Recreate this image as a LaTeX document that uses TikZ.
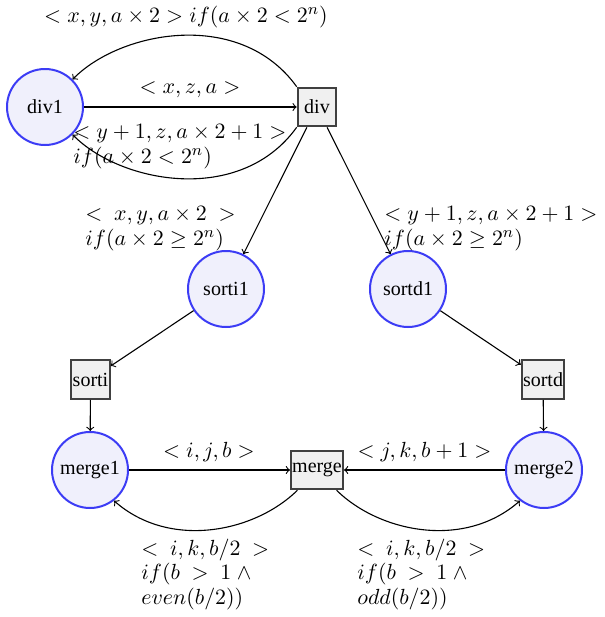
\documentclass[tikz,border=0pt]{standalone}
\usepackage[no-math]{fontspec}
\setmainfont{Liberation Serif}
\definecolor{placeblue}{RGB}{60,60,245}
\definecolor{placefill}{RGB}{240,240,252}
\begin{document}
\begin{tikzpicture}[x=0.5pt,y=-0.5pt,
  place/.style={circle,draw=placeblue,fill=placefill,line width=1pt,minimum size=38pt,inner sep=0pt},
  trans/.style={rectangle,draw=black!75,fill=black!6,line width=1pt,minimum size=19.3pt,inner sep=0.6pt},
  lbl/.style={inner sep=0pt,font=\fontsize{11.2}{12.2}\selectfont},
  mlbl/.style={lbl,align=left,anchor=base west},
  arc/.style={->,line width=0.55pt}]
\useasboundingbox (0,0) rectangle (605,617);
% nodes
\node[place] (div1) at (45,107) {div1};
\node[trans] (div) at (317,107) {div};
\node[place] (sorti1) at (226,289) {sorti1};
\node[place] (sortd1) at (408,289) {sortd1};
\node[trans] (sorti) at (90.5,379.5) {sorti};
\node[trans] (sortd) at (543,379.5) {sortd};
\node[place] (merge1) at (90,470) {merge1};
\node[trans] (merge) at (317,470) {merge};
\node[place] (merge2) at (544,470) {merge2};
% connectors
\draw[arc] (div1) -- (div);
\draw[arc] (div.north west) .. controls (240,8) and (120,31) .. (div1.45);
\draw[arc] (div.south west) .. controls (240,206) and (120,183) .. (div1.-45);
\draw[arc] (div) -- (sorti1);
\draw[arc] (div) -- (sortd1);
\draw[arc] (sorti1) -- (sorti);
\draw[arc] (sortd1) -- (sortd);
\draw[arc] (sorti) -- (merge1);
\draw[arc] (sortd) -- (merge2);
\draw[arc] (merge1) -- (merge);
\draw[arc] (merge2) -- (merge);
\draw[arc] (merge.-134) .. controls (255,532) and (170,550) .. (merge1.-52);
\draw[arc] (merge.-46) .. controls (379,532) and (464,550) .. (merge2.-128);
% labels
\node[lbl,anchor=base] (ltop) at (186,22) {$< x, y, a \times 2 > if(a \times 2 < 2^n)$};
\node[lbl,anchor=base] (lmid) at (190,93) {$< x, z, a >$};
\node[mlbl] (lbot) at (73,163) {$< y+1, z, a \times 2 + 1 >$\\$if(a \times 2 < 2^n)$};
\node[mlbl] (lsi) at (85,245) {$<\ x, y, a \times 2\ >$\\$if(a \times 2 \geq 2^n)$};
\node[mlbl] (lsd) at (384,245) {$< y+1, z, a \times 2 + 1 >$\\$if(a \times 2 \geq 2^n)$};
\node[lbl,anchor=base] (lij) at (209,457) {$< i, j, b >$};
\node[lbl,anchor=base] (ljk) at (424.5,457) {$< j, k, b+1 >$};
\node[mlbl] (lev) at (141,604) {$<\ i, k, b/2\ >$\\$if(b\ >\ 1\ \wedge$\\$even(b/2))$};
\node[mlbl] (lod) at (357,604) {$<\ i, k, b/2\ >$\\$if(b\ >\ 1\ \wedge$\\$odd(b/2))$};
\end{tikzpicture}
\end{document}
